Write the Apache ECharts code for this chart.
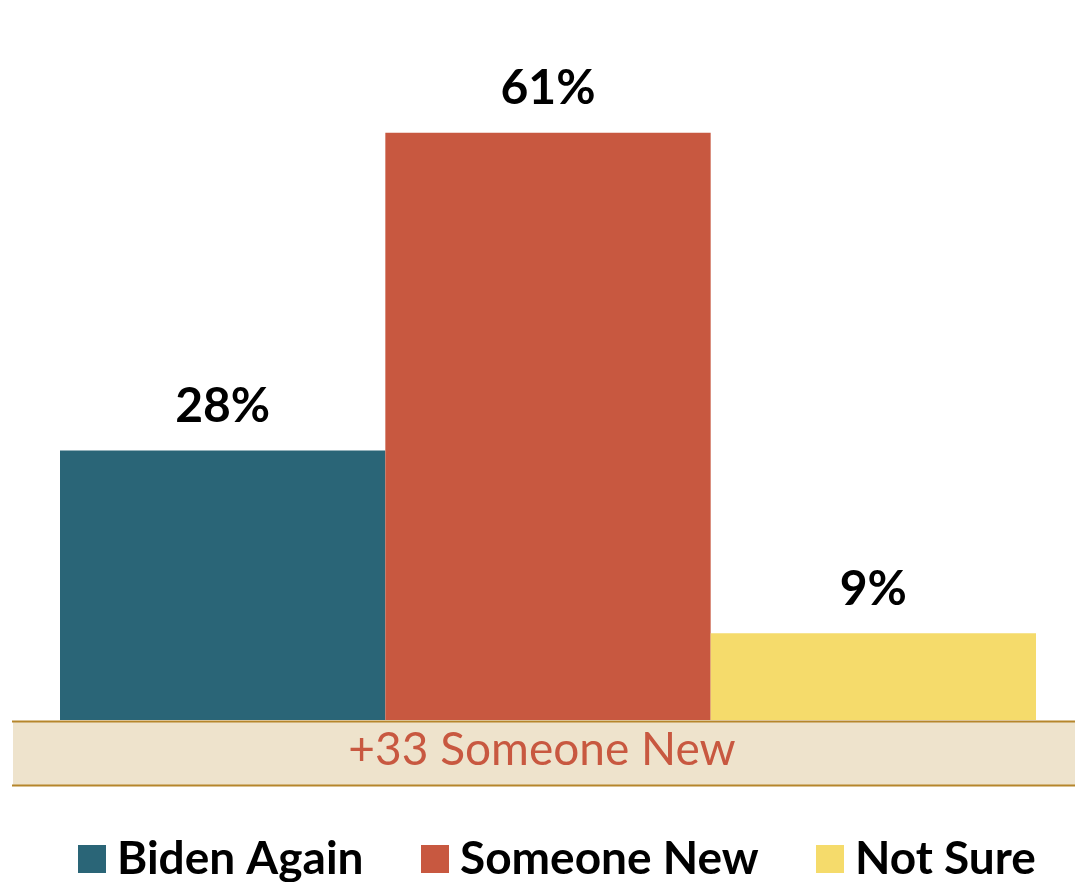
<!DOCTYPE html>
<html>
<head>
<meta charset="utf-8">
<script src="https://cdn.jsdelivr.net/npm/echarts@6/dist/echarts.min.js"></script>
<style>html,body{margin:0;padding:0;background:#fff}#c{width:1075px;height:882px}</style>
</head>
<body>
<div id="c"></div>
<script>
const categories = [''];
const seriesNames = ['Biden Again', 'Someone New', 'Not Sure'];
const seriesValues = [28, 61, 9];
const seriesColors = ['#2A6577', '#C85840', '#F5DB6B'];
const marginLeader = 'Someone New';
const margin = seriesValues[1] - seriesValues[0];

const chart = echarts.init(document.getElementById('c'), null, {renderer: 'canvas'});
const FONT = 'Lato';
const legendLefts = [78, 421, 816];
chart.setOption({
  animation: false,
  backgroundColor: '#ffffff',
  grid: {left: 60, right: 39, top: 46, bottom: 162, containLabel: false},
  xAxis: {type: 'category', data: categories, show: false},
  yAxis: {type: 'value', min: 0, max: 70, show: false},
  legend: seriesNames.map((n, i) => ({
    top: 836, left: legendLefts[i], padding: 0,
    itemWidth: 28, itemHeight: 28,
    icon: 'rect',
    textStyle: {fontFamily: FONT, fontWeight: 'bold', fontSize: 46, color: '#000', padding: [0, 0, 0, 6]},
    data: [n]
  })),
  series: seriesNames.map((n, i) => ({
    name: n, type: 'bar', data: [seriesValues[i]],
    barGap: '0%', barCategoryGap: '0%',
    itemStyle: {color: seriesColors[i]},
    label: {show: true, position: 'top', distance: 20, formatter: '{c}%',
      fontFamily: FONT, fontWeight: 'bold', fontSize: 48, color: '#000'}
  })),
  graphic: [
    {type: 'rect', shape: {x: 13, y: 721, width: 1062, height: 64}, style: {fill: '#EEE3CC'}, z: 1},
    {type: 'line', shape: {x1: 12, y1: 721.5, x2: 1075, y2: 721.5}, style: {stroke: '#B5862B', lineWidth: 2}, z: 2},
    {type: 'line', shape: {x1: 12, y1: 785.5, x2: 1075, y2: 785.5}, style: {stroke: '#B5862B', lineWidth: 2}, z: 2},
    {type: 'text', x: 542, y: 750, style: {text: '+' + margin + ' ' + marginLeader, fill: '#C85840',
      font: '46px Lato', textAlign: 'center', textVerticalAlign: 'middle'}, z: 3}
  ]
});
</script>
</body>
</html>
